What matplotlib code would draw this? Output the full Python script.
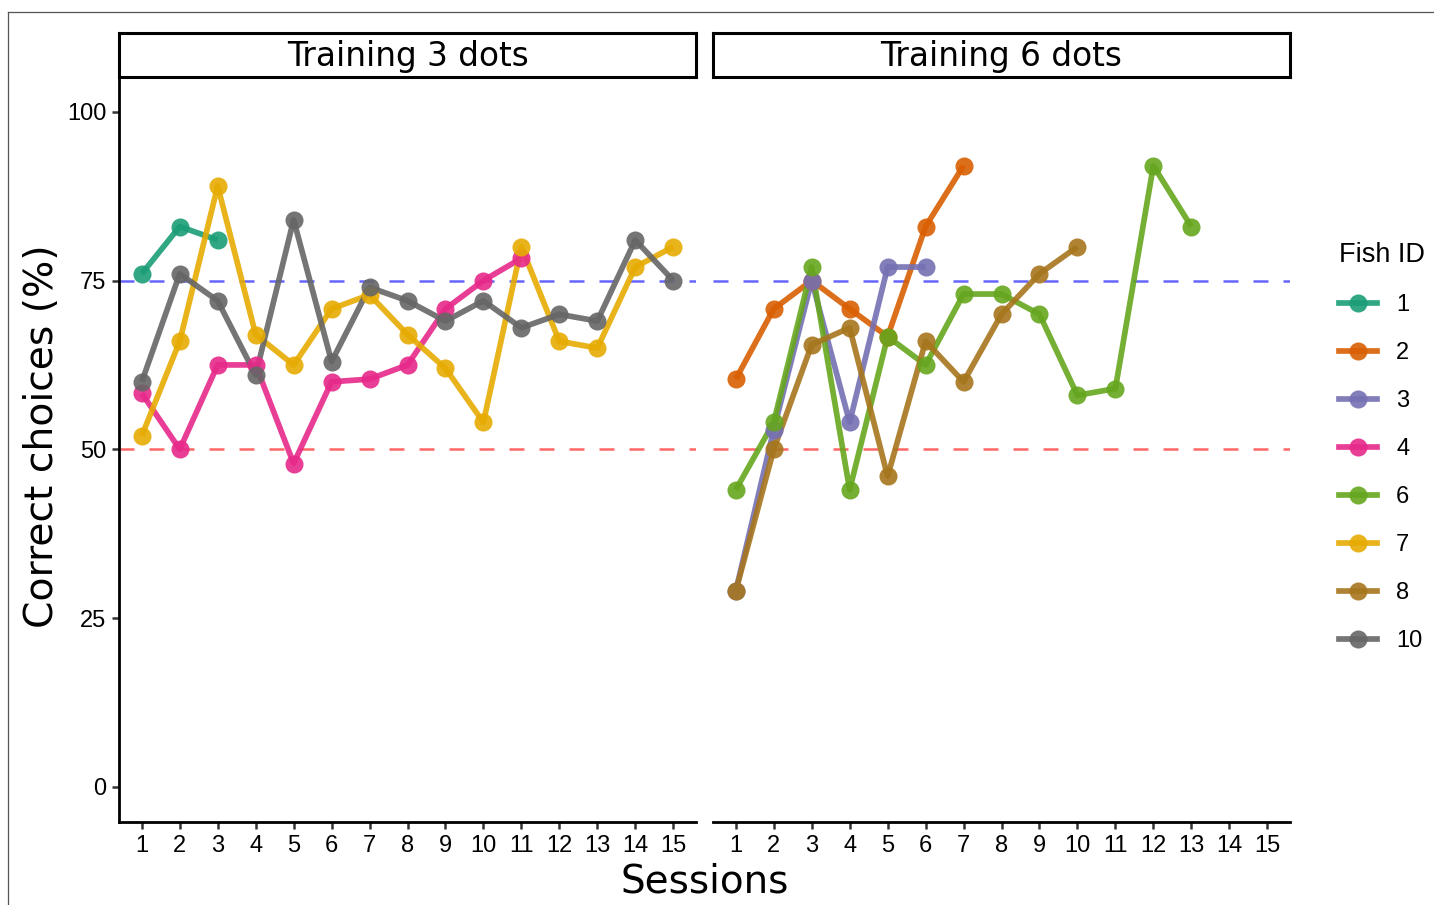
import matplotlib
matplotlib.use('Agg')
import matplotlib.pyplot as plt
from matplotlib.lines import Line2D

# Fish performance per session (% correct choices)
panels = ['Training 3 dots', 'Training 6 dots']
fish_ids = ['1', '2', '3', '4', '6', '7', '8', '10']
colors = ['#1B9E77', '#D95F02', '#7570B3', '#E7298A', '#66A61E', '#E6AB02', '#A6761D', '#666666']

fish1 = [76, 83, 81]
fish4 = [58.3, 50, 62.5, 62.5, 47.9, 60, 60.4, 62.5, 70.8, 75, 78.3]
fish7 = [52, 66, 89, 67, 62.5, 70.8, 72.9, 67, 62, 54, 80, 66, 65, 77, 80]
fish10 = [60, 76, 72, 61, 84, 63, 74, 72, 69, 72, 68, 70, 69, 81, 75]

fish2 = [60.4, 70.8, 75, 70.8, 66.7, 83, 92]
fish3 = [29, 52.9, 75, 54, 77, 77]
fish6 = [44, 54, 77, 44, 66.7, 62.5, 73, 73, 70, 58, 59, 92, 83]
fish8 = [29, 50, 65.5, 68, 46, 66, 60, 70, 76, 80]

panel_data = [
    {'1': fish1, '4': fish4, '7': fish7, '10': fish10},
    {'2': fish2, '3': fish3, '6': fish6, '8': fish8},
]
sessions = list(range(1, 16))
y_ticks = [0, 25, 50, 75, 100]

W, H = 1434, 905
fig = plt.figure(figsize=(W / 100, H / 100), dpi=100)

# thin outer frame (partially cut in the original)
fig.add_artist(Line2D([8 / W, 8 / W], [0, 1 - 12 / H], transform=fig.transFigure, color='#555555', lw=0.9))
fig.add_artist(Line2D([8 / W, 1], [1 - 12 / H, 1 - 12 / H], transform=fig.transFigure, color='#555555', lw=0.9))

ax_left = [119, 713]
ax_w = 577
y_top, y_bot = 78, 822
strip_top, strip_bot = 33, 77

tick_font = 'Liberation Sans'
label_font = 'DejaVu Sans'
line_w = 4.1
mark_s = 13

for i, (title, data) in enumerate(zip(panels, panel_data)):
    ax = fig.add_axes([ax_left[i] / W, 1 - y_bot / H, ax_w / W, (y_bot - y_top) / H])
    ax.axhline(75, color='#0000FF', alpha=0.6, lw=1.8, dashes=(6, 6), zorder=1)
    ax.axhline(50, color='#FF0000', alpha=0.6, lw=1.8, dashes=(6, 6), zorder=1)
    for fid, col in zip(fish_ids, colors):
        if fid in data:
            vals = data[fid]
            ax.plot(sessions[:len(vals)], vals, color=col, lw=line_w, alpha=0.9,
                    solid_capstyle='butt', zorder=2)
    for fid, col in zip(fish_ids, colors):
        if fid in data:
            vals = data[fid]
            ax.plot(sessions[:len(vals)], vals, 'o', color=col, ms=mark_s, alpha=0.9,
                    mec='none', zorder=3)
    ax.set_xlim(0.4, 15.6)
    ax.set_ylim(-5.2, 105)
    ax.set_xticks(sessions)
    ax.set_xticklabels([str(s) for s in sessions], fontsize=17, family=tick_font)
    ax.set_yticks(y_ticks)
    if i == 0:
        ax.set_yticklabels([str(v) for v in y_ticks], fontsize=17, family=tick_font)
        ax.spines['left'].set_linewidth(2)
        ax.tick_params(axis='y', length=5, width=1.8, color='#333333', pad=4)
    else:
        ax.set_yticklabels([])
        ax.spines['left'].set_visible(False)
        ax.tick_params(axis='y', length=0)
    ax.tick_params(axis='x', length=5, width=1.8, color='#333333', pad=4)
    ax.spines['top'].set_visible(False)
    ax.spines['right'].set_visible(False)
    ax.spines['bottom'].set_linewidth(2)

    # facet strip
    sax = fig.add_axes([ax_left[i] / W, 1 - strip_bot / H, ax_w / W, (strip_bot - strip_top) / H])
    sax.set_xticks([])
    sax.set_yticks([])
    for sp in sax.spines.values():
        sp.set_linewidth(2.2)
        sp.set_color('black')
    sax.text(0.5, 0.47, title, ha='center', va='center', fontsize=23.6, family=label_font,
             transform=sax.transAxes)

fig.text((119 + 1290) / 2 / W, 1 - 881 / H, 'Sessions', ha='center', va='center',
         fontsize=28, family=label_font)
fig.text(42 / W, 1 - 436 / H, 'Correct choices (%)', ha='center', va='center',
         rotation=90, fontsize=28.3, family=label_font)

handles = [Line2D([], [], color=c, lw=line_w, marker='o', ms=mark_s, alpha=0.9, mec='none')
           for c in colors]
leg = fig.legend(handles, fish_ids, loc='upper left', bbox_to_anchor=(1330 / W, 1 - 233 / H),
                 frameon=False, title='Fish ID', prop={'family': tick_font, 'size': 17},
                 handlelength=1.6, handletextpad=0.8, labelspacing=1.1, borderaxespad=0)
leg.get_title().set_fontsize(19.5)
leg.get_title().set_family(tick_font)
leg._legend_box.align = 'left'

fig.savefig('out.png', dpi=100)
